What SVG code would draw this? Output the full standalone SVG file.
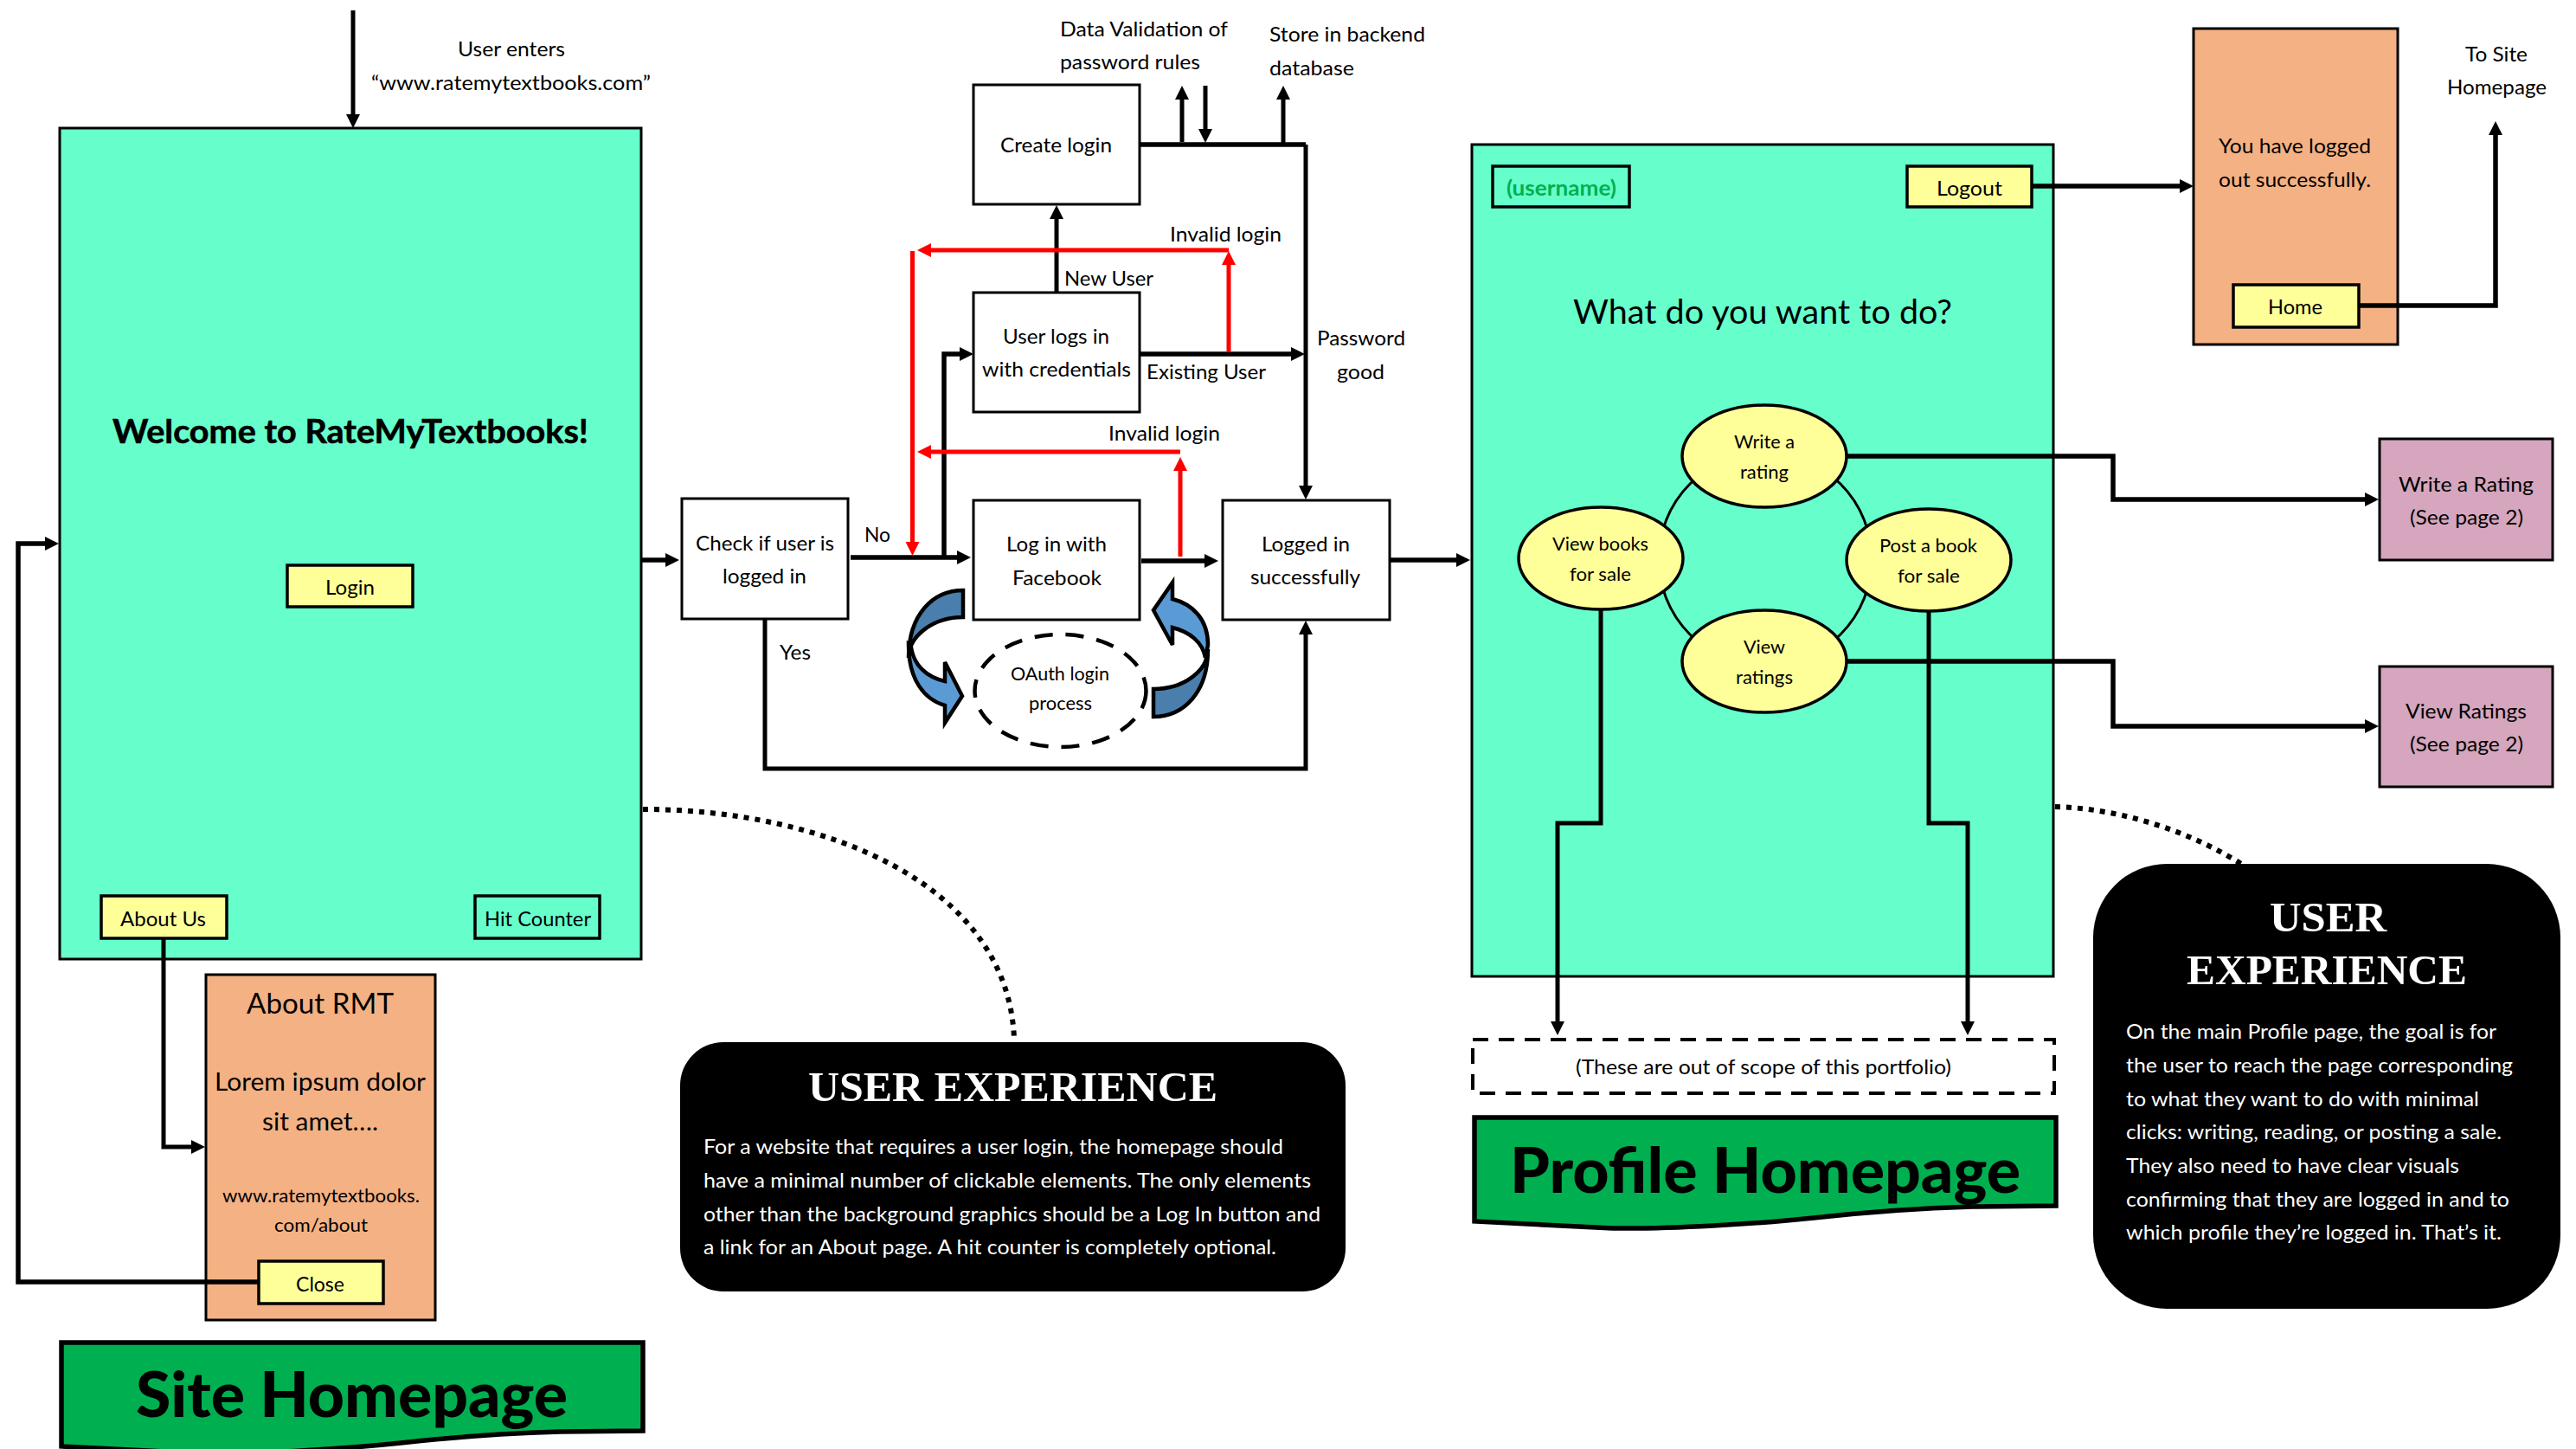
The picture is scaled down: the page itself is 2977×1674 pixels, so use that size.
<svg xmlns="http://www.w3.org/2000/svg" width="2977" height="1674" viewBox="0 0 2977 1674">
<style>
text{font-family:"Lato","Liberation Sans",sans-serif;font-size:24px;fill:#000}
.s{font-size:22px}
.w{fill:#fff}
.ux{font-family:"Liberation Serif",serif;font-weight:700;font-size:48px;fill:#fff}
.b{font-weight:700}
.wel{font-weight:700;font-size:38px;stroke:#000;stroke-width:.6px}
.t{font-weight:900;font-size:72px}
.box{fill:#fff;stroke:#000;stroke-width:3}
.panel{fill:#66FFCC;stroke:#000;stroke-width:3}
.or{fill:#F4B183;stroke:#000;stroke-width:3}
.btn{fill:#FFFF99;stroke:#000;stroke-width:3.500}
.btg{fill:#66FFCC;stroke:#000;stroke-width:3.500}
.pk{fill:#D5A6BD;stroke:#000;stroke-width:3}
.oval{fill:#FFFF99;stroke:#000;stroke-width:3.500}
.ban{fill:#00B050;stroke:#000;stroke-width:5.500}
.c{fill:none;stroke:#000;stroke-width:5}
.h{stroke-width:5.500}
.r{fill:none;stroke:#f00;stroke-width:5}
.a{marker-end:url(#ah)}
.ar{marker-end:url(#ar)}
.dot{fill:none;stroke:#000;stroke-width:6;stroke-dasharray:6 7}
.dash{fill:none;stroke:#000;stroke-width:4;stroke-dasharray:18 12}
.uxb{fill:#000}
.l{fill:#5B9BD5;stroke:#000;stroke-width:4.500;stroke-linejoin:miter}
.d{fill:#4A7EAD;stroke:#000;stroke-width:4.500}
</style>
<defs>
<marker id="ah" markerUnits="userSpaceOnUse" markerWidth="17" markerHeight="17" refX="6" refY="8" orient="auto"><path d="M0 0L16 8L0 16z" fill="#000"/></marker>
<marker id="ar" markerUnits="userSpaceOnUse" markerWidth="17" markerHeight="17" refX="6" refY="8" orient="auto"><path d="M0 0L16 8L0 16z" fill="#f00"/></marker>
</defs>
<g id="site-panel"><rect class="panel" x="69" y="148" width="672" height="960"/>
<text class="wel" x="130" y="512" textLength="550" lengthAdjust="spacingAndGlyphs">Welcome to RateMyTextbooks!</text></g>
<g id="about-panel"><rect class="or" x="238" y="1126" width="265" height="399"/>
<text style="font-size:33px" x="285" y="1171" textLength="170" lengthAdjust="spacingAndGlyphs">About RMT</text>
<text style="font-size:29px" x="248" y="1260" textLength="244" lengthAdjust="spacingAndGlyphs">Lorem ipsum dolor</text>
<text style="font-size:29px" x="303" y="1306" textLength="134" lengthAdjust="spacingAndGlyphs">sit amet….</text>
<text class="s" x="257" y="1389" textLength="228" lengthAdjust="spacingAndGlyphs">www.ratemytextbooks.</text>
<text class="s" x="317" y="1423" textLength="108" lengthAdjust="spacingAndGlyphs">com/about</text></g>
<g id="profile-panel"><rect class="panel" x="1701" y="167" width="672" height="961"/>
<text style="font-size:38px" x="1818" y="374" textLength="438" lengthAdjust="spacingAndGlyphs">What do you want to do?</text></g>
<g id="logout-panel"><rect class="or" x="2535" y="33" width="236" height="365"/>
<text x="2564" y="177" textLength="176" lengthAdjust="spacingAndGlyphs">You have logged</text>
<text x="2564" y="216" textLength="176" lengthAdjust="spacingAndGlyphs">out successfully.</text></g>
<g id="connectors">
<path class="c a" d="M408 12V138"/>
<path class="c h a" d="M742 647H775"/>
<path class="c h a" d="M983 644H1112"/>
<path class="c h a" d="M1091 644V409H1115"/>
<path class="c a" d="M1221 338V247"/>
<path class="c h" d="M1317 167H1509"/>
<path class="c a" d="M1509 167V567"/>
<path class="c a" d="M1366 164V109"/>
<path class="c a" d="M1393 99V155"/>
<path class="c a" d="M1483 165V109"/>
<path class="c h a" d="M1317 409H1498"/>
<path class="c h a" d="M1319 648H1398"/>
<path class="c a" d="M884 715V888H1509V727"/>
<path class="c h a" d="M1606 647H1689"/>
<path class="r ar" d="M1420 407V300"/>
<path class="r ar" d="M1420 289H1070"/>
<path class="r ar" d="M1054.500 290V632"/>
<path class="r ar" d="M1364 643V538"/>
<path class="r ar" d="M1364 522H1070"/>
<path class="c a" d="M189 1084V1325H227"/>
<path class="c h a" d="M299 1481H21V628H58"/>
<path class="c h a" d="M2348 215H2525"/>
<path class="c h a" d="M2726 353H2884V150"/>
<path class="c h a" d="M2134 527H2442V577H2739"/>
<path class="c h a" d="M2134 764H2442V839H2739"/>
<path class="c a" d="M1850 704V951H1800V1186"/>
<path class="c a" d="M2229 706V951H2274V1186"/>
<circle cx="2040" cy="646" r="123" fill="none" stroke="#000" stroke-width="3"/>
<path class="dot" d="M743 935C950 935 1165 1020 1172 1200"/>
<path class="dot" d="M2375 932C2450 934 2530 960 2590 998"/>
</g>
<g id="create-login"><rect class="box" x="1125" y="98" width="192" height="138"/><text x="1156" y="176" textLength="129" lengthAdjust="spacingAndGlyphs">Create login</text></g>
<g id="user-logs-in"><rect class="box" x="1125" y="338" width="192" height="138"/><text x="1159" y="397" textLength="123" lengthAdjust="spacingAndGlyphs">User logs in</text><text x="1135" y="435" textLength="172" lengthAdjust="spacingAndGlyphs">with credentials</text></g>
<g id="check-user"><rect class="box" x="788" y="576" width="192" height="139"/><text x="804" y="636" textLength="160" lengthAdjust="spacingAndGlyphs">Check if user is</text><text x="835" y="674" textLength="97" lengthAdjust="spacingAndGlyphs">logged in</text></g>
<g id="facebook"><rect class="box" x="1125" y="578" width="192" height="138"/><text x="1163" y="637" textLength="116" lengthAdjust="spacingAndGlyphs">Log in with</text><text x="1170" y="676" textLength="103" lengthAdjust="spacingAndGlyphs">Facebook</text></g>
<g id="logged-in"><rect class="box" x="1413" y="578" width="193" height="138"/><text x="1458" y="637" textLength="102" lengthAdjust="spacingAndGlyphs">Logged in</text><text x="1445" y="675" textLength="127" lengthAdjust="spacingAndGlyphs">successfully</text></g>
<g id="oauth"><ellipse cx="1225.500" cy="798" rx="99" ry="65" class="dash" style="stroke-width:4.500px;stroke-dasharray:21 15"/><text class="s" x="1168" y="786" textLength="114" lengthAdjust="spacingAndGlyphs">OAuth login</text><text class="s" x="1189" y="820" textLength="73" lengthAdjust="spacingAndGlyphs">process</text></g>
<g id="swirl-left">
<path class="l" d="M1050 745C1050 785 1068 808 1092 815V835L1112 804L1092 765V787C1070 782 1056 768 1053 748Z"/>
<path class="d" d="M1113 682C1078 682 1050 710 1050 760C1050 735 1078 713 1113 713Z"/>
</g>
<g id="swirl-right">
<path class="l" d="M1396 745C1396 715 1378 698 1355 692V673L1333 705L1355 745V725C1375 730 1390 742 1393 760Z"/>
<path class="d" d="M1333 828C1368 828 1396 800 1396 750C1396 775 1368 796 1333 796Z"/>
</g>
<g id="login-btn"><rect class="btn" x="332" y="653" width="145" height="48"/><text x="376" y="687" textLength="57" lengthAdjust="spacingAndGlyphs">Login</text></g>
<g id="about-btn"><rect class="btn" x="117" y="1035" width="145" height="49"/><text x="139" y="1070" textLength="99" lengthAdjust="spacingAndGlyphs">About Us</text></g>
<g id="hit-counter"><rect class="btg" x="549" y="1035" width="144" height="49"/><text x="560" y="1070" textLength="123" lengthAdjust="spacingAndGlyphs">Hit Counter</text></g>
<g id="close-btn"><rect class="btn" x="299" y="1457" width="144" height="49"/><text x="342" y="1492" textLength="56" lengthAdjust="spacingAndGlyphs">Close</text></g>
<g id="username"><rect class="btg" x="1725" y="192" width="158" height="47"/><text class="b" style="fill:#00B050" x="1741" y="226" textLength="127" lengthAdjust="spacingAndGlyphs">(username)</text></g>
<g id="logout-btn"><rect class="btn" x="2204" y="192" width="144" height="47"/><text x="2238" y="226" textLength="76" lengthAdjust="spacingAndGlyphs">Logout</text></g>
<g id="home-btn"><rect class="btn" x="2581" y="329" width="145" height="49"/><text x="2621" y="363" textLength="63" lengthAdjust="spacingAndGlyphs">Home</text></g>
<g id="write-rating-oval"><ellipse class="oval" cx="2039" cy="527" rx="95" ry="59"/><text class="s" x="2004" y="518" textLength="70" lengthAdjust="spacingAndGlyphs">Write a</text><text class="s" x="2011" y="553" textLength="56" lengthAdjust="spacingAndGlyphs">rating</text></g>
<g id="view-books-oval"><ellipse class="oval" cx="1850" cy="645" rx="95" ry="59"/><text class="s" x="1794" y="636" textLength="111" lengthAdjust="spacingAndGlyphs">View books</text><text class="s" x="1814" y="671" textLength="71" lengthAdjust="spacingAndGlyphs">for sale</text></g>
<g id="post-book-oval"><ellipse class="oval" cx="2229" cy="647" rx="95" ry="59"/><text class="s" x="2172" y="638" textLength="113" lengthAdjust="spacingAndGlyphs">Post a book</text><text class="s" x="2193" y="673" textLength="72" lengthAdjust="spacingAndGlyphs">for sale</text></g>
<g id="view-ratings-oval"><ellipse class="oval" cx="2039" cy="764" rx="95" ry="59"/><text class="s" x="2015" y="755" textLength="48" lengthAdjust="spacingAndGlyphs">View</text><text class="s" x="2006" y="790" textLength="66" lengthAdjust="spacingAndGlyphs">ratings</text></g>
<g id="out-of-scope"><rect class="dash" x="1702" y="1201" width="672" height="62"/><text x="1821" y="1241" textLength="434" lengthAdjust="spacingAndGlyphs">(These are out of scope of this portfolio)</text></g>
<g id="write-rating-page"><rect class="pk" x="2750" y="507" width="200" height="140"/><text x="2772" y="568" textLength="156" lengthAdjust="spacingAndGlyphs">Write a Rating</text><text x="2785" y="606" textLength="131" lengthAdjust="spacingAndGlyphs">(See page 2)</text></g>
<g id="view-ratings-page"><rect class="pk" x="2750" y="770" width="200" height="139"/><text x="2780" y="830" textLength="140" lengthAdjust="spacingAndGlyphs">View Ratings</text><text x="2785" y="868" textLength="131" lengthAdjust="spacingAndGlyphs">(See page 2)</text></g>
<g id="profile-banner"><path class="ban" d="M1704 1291H2376V1393L2280 1394C2210 1396 2150 1401 2096 1407C2030 1414 1930 1420 1864 1419L1704 1411Z"/><text class="t" x="1745" y="1378" textLength="590" lengthAdjust="spacingAndGlyphs">Profile Homepage</text></g>
<g id="site-banner"><path class="ban" d="M71 1551H743V1653L647 1654C577 1656 517 1661 463 1667C397 1674 297 1680 231 1679L71 1671Z"/><text class="t" x="157" y="1637" textLength="499" lengthAdjust="spacingAndGlyphs">Site Homepage</text></g>
<g id="ux-home"><rect class="uxb" x="786" y="1204" width="769" height="288" rx="50"/>
<text class="ux" x="934" y="1272" textLength="473" lengthAdjust="spacingAndGlyphs">USER EXPERIENCE</text>
<text class="w" x="813" y="1333" textLength="670" lengthAdjust="spacingAndGlyphs">For a website that requires a user login, the homepage should</text>
<text class="w" x="813" y="1372" textLength="702" lengthAdjust="spacingAndGlyphs">have a minimal number of clickable elements. The only elements</text>
<text class="w" x="813" y="1411" textLength="713" lengthAdjust="spacingAndGlyphs">other than the background graphics should be a Log In button and</text>
<text class="w" x="813" y="1449" textLength="662" lengthAdjust="spacingAndGlyphs">a link for an About page. A hit counter is completely optional.</text></g>
<g id="ux-profile"><rect class="uxb" x="2419" y="998" width="540" height="514" rx="85"/>
<text class="ux" x="2623" y="1076" textLength="135" lengthAdjust="spacingAndGlyphs">USER</text>
<text class="ux" x="2527" y="1137" textLength="324" lengthAdjust="spacingAndGlyphs">EXPERIENCE</text>
<text class="w" x="2457" y="1200" textLength="428" lengthAdjust="spacingAndGlyphs">On the main Profile page, the goal is for</text>
<text class="w" x="2457" y="1239" textLength="447" lengthAdjust="spacingAndGlyphs">the user to reach the page corresponding</text>
<text class="w" x="2457" y="1278" textLength="408" lengthAdjust="spacingAndGlyphs">to what they want to do with minimal</text>
<text class="w" x="2457" y="1316" textLength="434" lengthAdjust="spacingAndGlyphs">clicks: writing, reading, or posting a sale.</text>
<text class="w" x="2457" y="1355" textLength="385" lengthAdjust="spacingAndGlyphs">They also need to have clear visuals</text>
<text class="w" x="2457" y="1394" textLength="443" lengthAdjust="spacingAndGlyphs">confirming that they are logged in and to</text>
<text class="w" x="2457" y="1432" textLength="434" lengthAdjust="spacingAndGlyphs">which profile they’re logged in. That’s it.</text></g>
<g id="labels">
<text x="529" y="65" textLength="124" lengthAdjust="spacingAndGlyphs">User enters</text>
<text x="429" y="104" textLength="323" lengthAdjust="spacingAndGlyphs">“www.ratemytextbooks.com”</text>
<text x="1225" y="42" textLength="194" lengthAdjust="spacingAndGlyphs">Data Validation of</text>
<text x="1225" y="80" textLength="162" lengthAdjust="spacingAndGlyphs">password rules</text>
<text x="1467" y="48" textLength="180" lengthAdjust="spacingAndGlyphs">Store in backend</text>
<text x="1467" y="87" textLength="98" lengthAdjust="spacingAndGlyphs">database</text>
<text x="1352" y="279" textLength="129" lengthAdjust="spacingAndGlyphs">Invalid login</text>
<text x="1230" y="330" textLength="103" lengthAdjust="spacingAndGlyphs">New User</text>
<text x="1325" y="438" textLength="138" lengthAdjust="spacingAndGlyphs">Existing User</text>
<text x="1522" y="399" textLength="102" lengthAdjust="spacingAndGlyphs">Password</text>
<text x="1545" y="438" textLength="55" lengthAdjust="spacingAndGlyphs">good</text>
<text x="1281" y="509" textLength="129" lengthAdjust="spacingAndGlyphs">Invalid login</text>
<text x="999" y="626" textLength="30" lengthAdjust="spacingAndGlyphs">No</text>
<text x="901" y="762" textLength="36" lengthAdjust="spacingAndGlyphs">Yes</text>
<text x="2849" y="71" textLength="72" lengthAdjust="spacingAndGlyphs">To Site</text>
<text x="2828" y="109" textLength="115" lengthAdjust="spacingAndGlyphs">Homepage</text>
</g>
</svg>
